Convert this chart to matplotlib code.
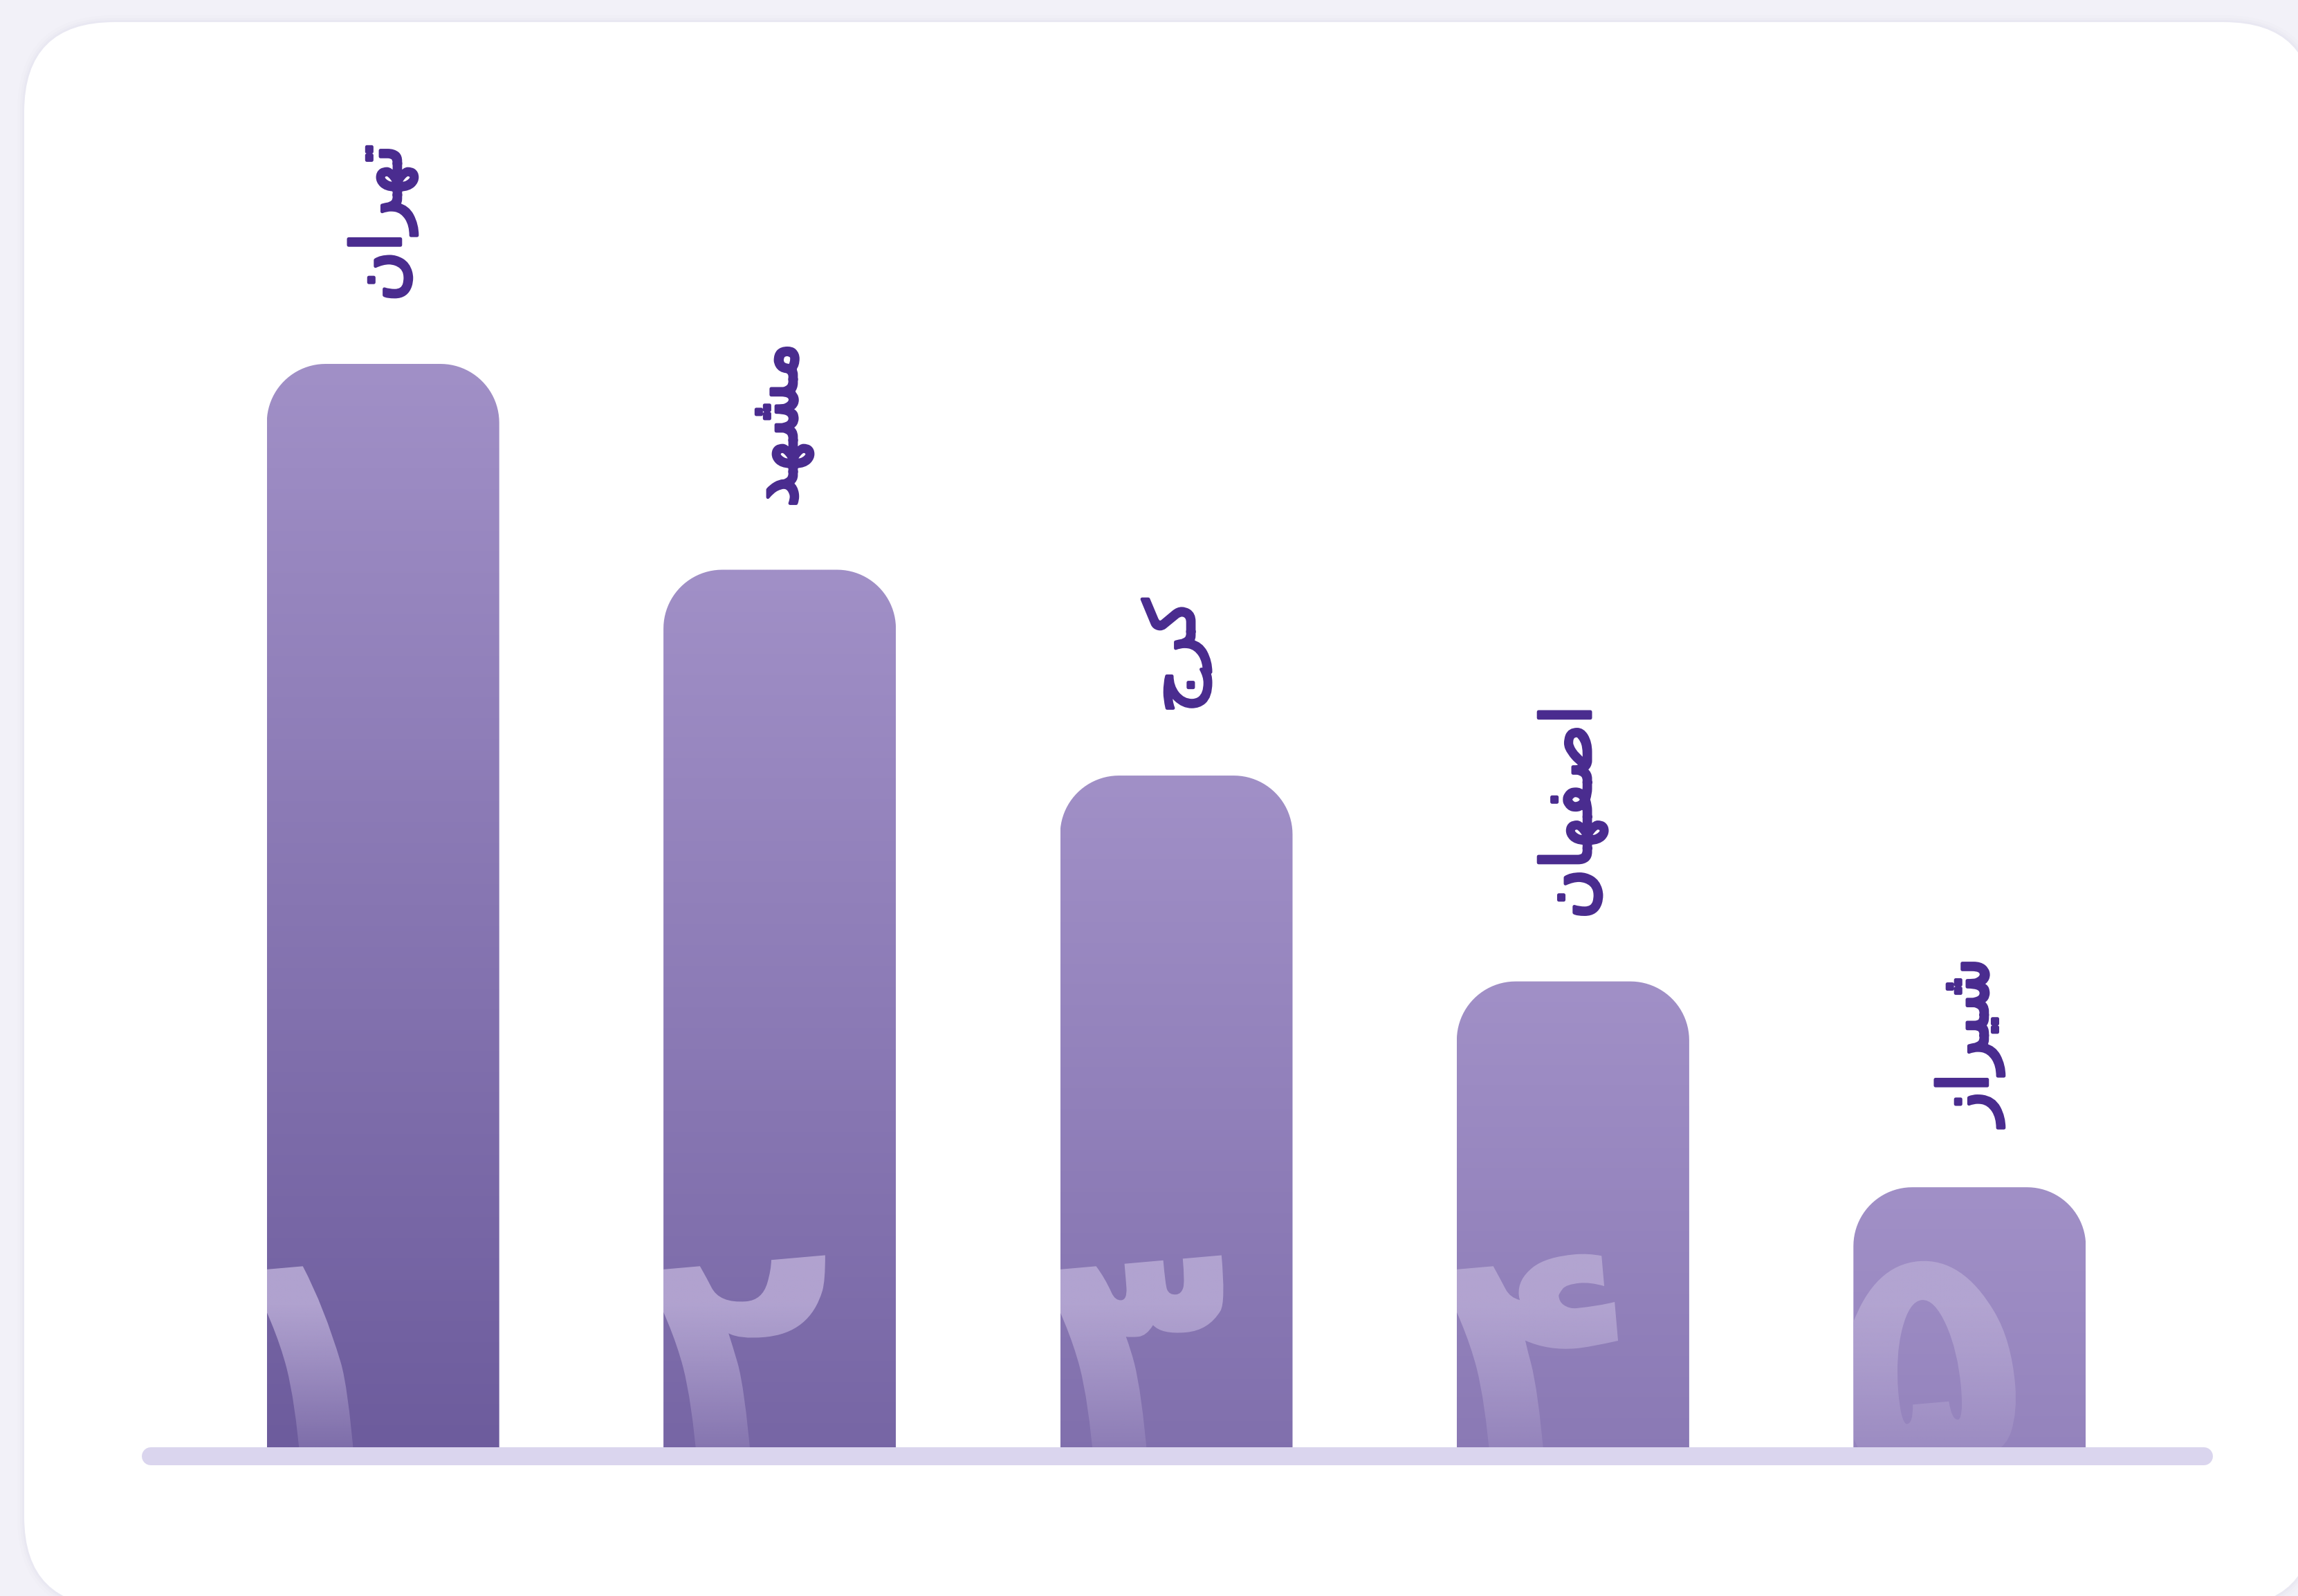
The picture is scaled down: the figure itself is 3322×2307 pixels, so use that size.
import numpy as np
import matplotlib
matplotlib.use("Agg")
import matplotlib.pyplot as plt
import matplotlib.patheffects as pe
from matplotlib.path import Path
from matplotlib.patches import PathPatch, FancyBboxPatch
from matplotlib.textpath import TextPath
from matplotlib.font_manager import FontProperties
from matplotlib.transforms import Affine2D
from matplotlib.colors import to_rgb

# ---------------- data ----------------
cities = ['تهران', 'مشهد', 'کرج', 'اصفهان', 'شیراز']
values = [100, 81, 62, 43, 24]
rank_labels = ['۱', '۲', '۳', '۴', '۵']

# ---------------- minimal Persian shaping (matplotlib has no complex text layout) ----
FORMS = {
    'ا': ('\uFE8D', '\uFE8E', None, None),
    'ت': ('\uFE95', '\uFE96', '\uFE97', '\uFE98'),
    'ج': ('\uFE9D', '\uFE9E', '\uFE9F', '\uFEA0'),
    'د': ('\uFEA9', '\uFEAA', None, None),
    'ر': ('\uFEAD', '\uFEAE', None, None),
    'ز': ('\uFEAF', '\uFEB0', None, None),
    'ش': ('\uFEB5', '\uFEB6', '\uFEB7', '\uFEB8'),
    'ص': ('\uFEB9', '\uFEBA', '\uFEBB', '\uFEBC'),
    'ف': ('\uFED1', '\uFED2', '\uFED3', '\uFED4'),
    'م': ('\uFEE1', '\uFEE2', '\uFEE3', '\uFEE4'),
    'ن': ('\uFEE5', '\uFEE6', '\uFEE7', '\uFEE8'),
    'ه': ('\uFEE9', '\uFEEA', '\uFEEB', '\uFEEC'),
    'ک': ('\uFB8E', '\uFB8F', '\uFB90', '\uFB91'),
    'ی': ('\uFBFC', '\uFBFD', '\uFBFE', '\uFBFF'),
}


def shape(word):
    ch = list(word)
    n = len(ch)
    out = []
    for i, c in enumerate(ch):
        iso, fin, ini, med = FORMS[c]
        pj = i > 0 and FORMS[ch[i - 1]][2] is not None
        nj = i < n - 1 and ini is not None
        if pj and nj:
            g = med
        elif pj:
            g = fin
        elif nj:
            g = ini
        else:
            g = iso
        out.append(g)
    return ''.join(reversed(out))


# ---------------- figure / layout (pixels) ----------------
W, H = 3322, 2307
DPI = 100
fig = plt.figure(figsize=(W / DPI, H / DPI), dpi=DPI)
fig.patch.set_facecolor('#F2F1F8')

bg = fig.add_axes([0, 0, 1, 1])
bg.set_xlim(0, W)
bg.set_ylim(H, 0)
bg.axis('off')
# soft card shadow + card
for k, a in [(10, 0.012), (6, 0.018), (3, 0.025)]:
    bg.add_patch(FancyBboxPatch((35 - k, 32 - k), 3310 + 2 * k, 2290 + 2 * k,
                                boxstyle='round,pad=0,rounding_size=%d' % (130 + k),
                                facecolor='#6A5AA0', alpha=a, edgecolor='none'))
bg.add_patch(FancyBboxPatch((35, 32), 3310, 2290,
                            boxstyle='round,pad=0,rounding_size=130',
                            facecolor='white', edgecolor='none'))
# baseline track
bg.plot([205 + 13, 3199 - 13], [2105, 2105], color='#DAD5EE',
        lw=26 * 72 / DPI, solid_capstyle='round', zorder=2)

base_px = 2092          # baseline (from top)
top_px = 200            # axes top (from top)
left_px, right_px = 267, 3134
ax = fig.add_axes([left_px / W, (H - base_px) / H,
                   (right_px - left_px) / W, (base_px - top_px) / H])
ax.axis('off')
ax.patch.set_alpha(0)

n = len(values)
vmax = max(values)
scale = 1566 / vmax                       # px per value unit
ax.set_xlim(-0.5, n - 0.5)
ax.set_ylim(0, (base_px - top_px) / scale)
ax.set_autoscale_on(False)
px_x = (right_px - left_px) / n           # px per category unit

bw = 336 / px_x
rx = 85 / px_x
ry = 85 / scale

light = np.array(to_rgb('#A190C7'))
dark = np.array(to_rgb('#6D5C9D'))
digit_rgb = np.array(to_rgb('#B4A6D2'))

fp_digit = FontProperties(family='DejaVu Sans', weight='bold')
label_color = '#4A2C8F'


def bar_path(xc, v):
    x0, x1 = xc - bw / 2, xc + bw / 2
    t = np.linspace(0, np.pi / 2, 24)
    verts = [(x0, 0), (x1, 0), (x1, v - ry)]
    verts += [(x1 - rx + rx * np.cos(a), v - ry + ry * np.sin(a)) for a in t]
    verts += [(x0 + rx + rx * np.cos(a), v - ry + ry * np.sin(a)) for a in t + np.pi / 2]
    verts += [(x0, 0)]
    return Path(verts, closed=True)


for i, (v, city, rk) in enumerate(zip(values, cities, rank_labels)):
    x0, x1 = i - bw / 2, i + bw / 2
    # ---- bar with gradient (darkens with distance from its top) ----
    clip = PathPatch(bar_path(i, v), facecolor='none', edgecolor='none')
    ax.add_patch(clip)
    rows = 400
    frac = np.linspace(0, v / vmax, rows)[:, None]
    col = light[None, :] * (1 - frac) + dark[None, :] * frac
    img = np.repeat(col[:, None, :], 2, axis=1)
    im = ax.imshow(img, extent=[x0, x1, 0, v], origin='upper',
                   aspect='auto', interpolation='bilinear', zorder=1)
    im.set_clip_path(clip)

    # ---- big rank digit, tilted, fading downward, clipped to bar ----
    tp = TextPath((0, 0), rk, size=1, prop=fp_digit)
    ext = tp.get_extents()
    em = 450
    ax_left_disp = ax.transData.transform((x0, 0))
    trans = (Affine2D().translate(-ext.x0, 0).scale(em).rotate_deg(5)
             .translate(ax_left_disp[0] - 4, ax_left_disp[1] - 30))
    dpatch = PathPatch(tp, transform=trans, facecolor='none', edgecolor='none')
    dtop = min(v, 320 / scale)
    rows = 300
    tt = np.linspace(0, 1, rows)
    alpha = np.where(tt < 0.35, 0.95, 0.95 - (tt - 0.35) / 0.65 * 0.70)
    dimg = np.zeros((rows, 2, 4))
    dimg[:, :, :3] = digit_rgb
    dimg[:, :, 3] = alpha[:, None]
    dim = ax.imshow(dimg, extent=[x0, x1, 0, dtop], origin='upper',
                    aspect='auto', interpolation='bilinear', zorder=2)
    dim.set_clip_path(dpatch)

    # ---- rotated city label ----
    ax.text(i, v + 90 / scale, shape(city), rotation=90, ha='center', va='bottom',
            fontsize=71, color=label_color, family='DejaVu Sans',
            zorder=3, clip_on=False,
            path_effects=[pe.withStroke(linewidth=3.5, foreground=label_color)])

fig.savefig('out.png', dpi=DPI, facecolor=fig.get_facecolor())
